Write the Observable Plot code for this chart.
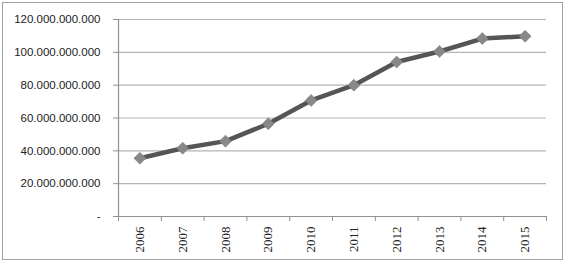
<!DOCTYPE html>
<html>
<head>
<meta charset="utf-8">
<script src="https://cdn.jsdelivr.net/npm/d3@7"></script>
<script src="https://cdn.jsdelivr.net/npm/@observablehq/plot@0.6"></script>
<style>
  html, body { margin: 0; padding: 0; background: #fff; }
  #wrap { position: relative; width: 567px; height: 264px; }
  #border { position: absolute; left: 2px; top: 2px; width: 559px; height: 256px; border: 1.5px solid #a0a0a0; pointer-events: none; }
</style>
</head>
<body>
<div id="wrap"><div id="border"></div></div>
<script>
const years = [2006, 2007, 2008, 2009, 2010, 2011, 2012, 2013, 2014, 2015];
const values = [35.5e9, 41.6e9, 45.9e9, 56.5e9, 70.7e9, 80.0e9, 94.1e9, 100.5e9, 108.4e9, 109.8e9];
const yTicks = [0, 20e9, 40e9, 60e9, 80e9, 100e9, 120e9];

const data = years.map((y, i) => ({year: y, value: values[i]}));
const boundaries = [...years.map(y => y - 0.5), years[years.length - 1] + 0.5];
const fmt = d3.formatLocale({decimal: ",", thousands: ".", grouping: [3], currency: ["", ""]}).format(",");

const chart = Plot.plot({
  width: 567,
  height: 264,
  marginLeft: 118,
  marginRight: 21,
  marginTop: 19,
  marginBottom: 48,
  style: {background: "transparent", overflow: "visible"},
  x: {domain: [years[0] - 0.5, years[years.length - 1] + 0.5]},
  y: {domain: [0, 120e9]},
  marks: [
    Plot.ruleY(yTicks.slice(1), {stroke: "#b4b4b4", strokeWidth: 1.2}),
    Plot.ruleY([0], {stroke: "#909090", strokeWidth: 1.2}),
    Plot.ruleX([years[0] - 0.5], {stroke: "#909090", strokeWidth: 1.2}),
    Plot.axisY({
      ticks: yTicks, tickSize: 5, tickPadding: 13, stroke: "#909090",
      tickFormat: d => d === 0 ? "-" : fmt(d),
      fontSize: 11.5, fontFamily: "Liberation Sans", fill: "#222", label: null
    }),
    Plot.axisX({ticks: boundaries, tickSize: 5, tickFormat: () => "", stroke: "#909090", label: null}),
    Plot.axisX({
      ticks: years, tickSize: 0, tickPadding: 10, tickRotate: -90,
      tickFormat: d => String(d), fontSize: 13, fontFamily: "Liberation Serif", fill: "#222", label: null
    }),
    Plot.line(data, {x: "year", y: "value", stroke: "#555", strokeWidth: 4.5}),
    Plot.dot(data, {x: "year", y: "value", symbol: "square", rotate: 45, r: 4.8, fill: "#888", stroke: "#7a7a7a", strokeWidth: 0.5})
  ]
});
document.getElementById("wrap").prepend(chart);
chart.style.position = "absolute";
chart.style.left = "0";
chart.style.top = "0";
</script>
</body>
</html>
